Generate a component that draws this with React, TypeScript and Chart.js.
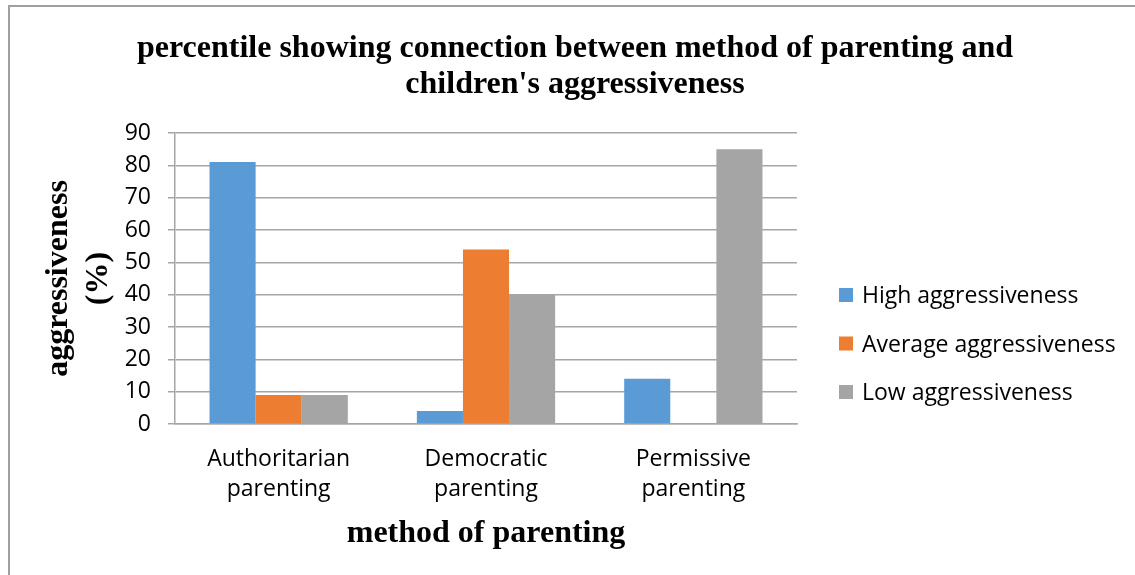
import React, { useEffect, useRef } from 'react';
import { Chart, registerables } from 'chart.js';

Chart.register(...registerables);

const categories: string[][] = [
  ['Authoritarian', 'parenting'],
  ['Democratic', 'parenting'],
  ['Permissive', 'parenting'],
];
const seriesNames = ['High aggressiveness', 'Average aggressiveness', 'Low aggressiveness'];
const highValues = [81, 4, 14];
const averageValues = [9, 54, 0];
const lowValues = [9, 40, 85];
const seriesColors = ['#5B9BD5', '#ED7D31', '#A5A5A5'];
const titleLines = ['percentile showing connection between method of parenting and', "children's aggressiveness"];
const yTitleLines = ['aggressiveness', '(%)'];
const xTitle = 'method of parenting';
const yMin = 0;
const yMax = 90;
const yStep = 10;

const SERIF = '"Liberation Serif", "Times New Roman", serif';
const SANS = '"Open Sans", "Noto Sans", sans-serif';
const GRID = '#a6a6a6';
const FRAME = '#a0a0a0';

const W = 1135;
const H = 575;
const FRAME_X = 8;
const FRAME_Y = 5;

const decorPlugin = {
  id: 'decor',
  beforeDraw(chart: any) {
    const ctx = chart.ctx as CanvasRenderingContext2D;
    ctx.save();
    ctx.fillStyle = '#fff';
    ctx.fillRect(0, 0, W, H);
    ctx.fillStyle = FRAME;
    ctx.fillRect(FRAME_X, FRAME_Y, W - FRAME_X, 2);
    ctx.fillRect(FRAME_X, FRAME_Y, 2, H - FRAME_Y);
    ctx.restore();
  },
  afterDraw(chart: any) {
    const ctx = chart.ctx as CanvasRenderingContext2D;
    ctx.save();
    // Main title
    ctx.fillStyle = '#000';
    ctx.font = `bold 32px ${SERIF}`;
    ctx.textAlign = 'center';
    ctx.textBaseline = 'alphabetic';
    const cx = FRAME_X + 1134 / 2;
    titleLines.forEach((line, i) => ctx.fillText(line, cx, 57 + i * 36));
    // Legend
    ctx.font = `23px ${SANS}`;
    ctx.textAlign = 'left';
    ctx.textBaseline = 'alphabetic';
    chart.data.datasets.forEach((ds: any, i: number) => {
      const cy = 295 + i * 48.5;
      ctx.fillStyle = ds.backgroundColor;
      ctx.fillRect(839, cy - 7, 14, 14);
      ctx.fillStyle = '#000';
      ctx.fillText(ds.label, 862, cy + 8);
    });
    ctx.restore();
  },
};

export default function App() {
  const ref = useRef<HTMLCanvasElement | null>(null);

  useEffect(() => {
    if (!ref.current) return;
    const chart = new Chart(ref.current, {
      type: 'bar',
      data: {
        labels: categories,
        datasets: [
          { label: seriesNames[0], data: highValues, backgroundColor: seriesColors[0] },
          { label: seriesNames[1], data: averageValues, backgroundColor: seriesColors[1] },
          { label: seriesNames[2], data: lowValues, backgroundColor: seriesColors[2] },
        ],
      },
      options: {
        responsive: false,
        animation: false,
        devicePixelRatio: 1,
        datasets: { bar: { categoryPercentage: 0.667, barPercentage: 1 } },
        layout: { padding: { left: FRAME_X, top: 133, right: W - 797, bottom: 0 } },
        plugins: {
          legend: { display: false },
          title: { display: false },
          tooltip: { enabled: false },
        },
        scales: {
          x: {
            grid: { display: false, drawTicks: false },
            border: { display: true, color: GRID, width: 1.5 },
            ticks: {
              color: '#000',
              font: { family: SANS, size: 23, lineHeight: 1.3 },
              padding: 21,
              maxRotation: 0,
              autoSkip: false,
            },
            title: {
              display: true,
              text: xTitle,
              color: '#000',
              font: { family: SERIF, size: 32, weight: 'bold', lineHeight: 1.2 },
              padding: { top: 0, bottom: 21.8 },
            },
            afterFit: (scale: any) => {
              scale.height = H - 424;
            },
          },
          y: {
            min: yMin,
            max: yMax,
            grid: { color: GRID, lineWidth: 1.5, tickLength: 7, drawTicks: true },
            border: { display: true, color: GRID, width: 1.5 },
            ticks: {
              stepSize: yStep,
              color: '#000',
              font: { family: SANS, size: 23 },
              padding: 17,
            },
            title: {
              display: true,
              text: yTitleLines,
              color: '#000',
              font: { family: SERIF, size: 32, weight: 'bold', lineHeight: 1.25 },
              padding: { top: 31, bottom: 0 },
            },
            afterFit: (scale: any) => {
              scale.width = 175 - FRAME_X;
            },
          },
        },
      },
      plugins: [decorPlugin],
    } as any);
    return () => chart.destroy();
  }, []);

  return (
    <div
      style={{
        position: 'fixed',
        left: 0,
        top: 0,
        width: W,
        height: H,
        overflow: 'hidden',
        background: '#fff',
      }}
    >
      <canvas
        ref={ref}
        width={W}
        height={H}
        style={{ position: 'absolute', left: 0, top: 0, width: W, height: H }}
      />
    </div>
  );
}
